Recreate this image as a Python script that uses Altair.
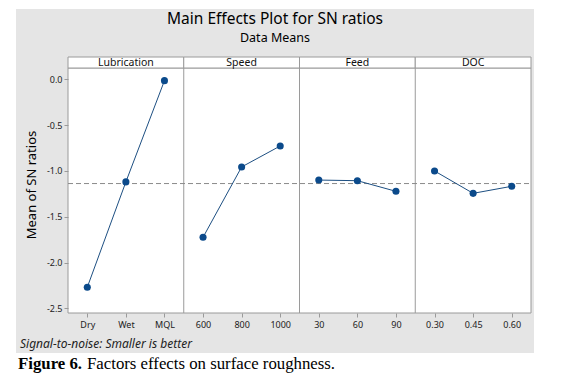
import altair as alt
import pandas as pd

# ---- data ----
factors = ["Lubrication", "Speed", "Feed", "DOC"]
levels = [["Dry", "Wet", "MQL"], ["600", "800", "1000"], ["30", "60", "90"], ["0.30", "0.45", "0.60"]]
sn_lubrication = [-2.27, -1.12, -0.015]
sn_speed = [-1.725, -0.957, -0.728]
sn_feed = [-1.100, -1.107, -1.223]
sn_doc = [-1.001, -1.245, -1.168]
y_ticks = [0.0, -0.5, -1.0, -1.5, -2.0, -2.5]

title_text = "Main Effects Plot for SN ratios"
subtitle_text = "Data Means"
y_title = "Mean of SN ratios"
footnote = "Signal-to-noise: Smaller is better"
caption_bold = "Figure 6."
caption_rest = "Factors effects on surface roughness."

series = [sn_lubrication, sn_speed, sn_feed, sn_doc]
rows = []
for p, (f, lv, vals) in enumerate(zip(factors, levels, series)):
    for i, (l, v) in enumerate(zip(lv, vals)):
        rows.append({"factor": f, "panel": p, "idx": i, "level": l, "sn": v})
df = pd.DataFrame(rows)
df_f = pd.DataFrame({"factor": factors, "panel": list(range(len(factors)))})
one = pd.DataFrame({"k": [0]})

W, H = 463, 245
n_pos = 3 * len(factors)
XS = alt.Scale(domain=[0, n_pos], nice=False, zero=False)
YS = alt.Scale(domain=[-2.551, 0.123], nice=False, zero=False)

all_labels = [l for lv in levels for l in lv]
label_expr = "[" + ",".join("'%s'" % l for l in all_labels) + "][floor(datum.value)]"
x_vals = [k + 0.5 for k in range(n_pos)]

FONT = "Noto Sans"
GRID = "#9a9a9a"

x_axis = alt.Axis(values=x_vals, labelExpr=label_expr, title=None, grid=False, domain=False,
                  tickSize=4, tickColor=GRID, labelFontSize=9, labelColor="#222",
                  labelPadding=3, labelFont=FONT, zindex=1)
y_axis = alt.Axis(values=y_ticks, labelExpr="replace(format(datum.value, '.1f'), '\u2212', '-')",
                  title=None, grid=False, domain=False, tickSize=4, tickColor=GRID,
                  labelFontSize=9, labelColor="#222", labelPadding=2, labelFont=FONT, zindex=1)

bg = alt.Chart(one).mark_rect(fill="#e5e5e5").encode(
    x=alt.value(-52), x2=alt.value(466), y=alt.value(-59), y2=alt.value(285))
plot_bg = alt.Chart(one).mark_rect(fill="white", stroke=GRID, strokeWidth=1).encode(
    x=alt.value(0), x2=alt.value(W), y=alt.value(0), y2=alt.value(H))

strips = alt.Chart(df_f).transform_calculate(
    x0="datum.panel*3", x1="datum.panel*3+3"
).mark_rect(fill="white", stroke=GRID, strokeWidth=1).encode(
    x=alt.X("x0:Q", scale=XS, axis=x_axis), x2="x1:Q", y=alt.value(-11), y2=alt.value(0))
strip_text = alt.Chart(df_f).transform_calculate(
    xc="datum.panel*3+1.5"
).mark_text(fontSize=10.5, font=FONT, color="#111", baseline="middle").encode(
    x=alt.X("xc:Q", scale=XS), y=alt.value(-5.5), text="factor:N")

dividers = alt.Chart(df_f).transform_filter("datum.panel > 0").transform_calculate(
    xb="datum.panel*3"
).mark_rule(color=GRID, strokeWidth=1).encode(
    x=alt.X("xb:Q", scale=XS), y=alt.value(0), y2=alt.value(H))

mean_rule = alt.Chart(df).mark_rule(color="#8a8a8a", strokeDash=[5, 3], strokeWidth=1).encode(
    y=alt.Y("mean(sn):Q", scale=YS, axis=y_axis), x=alt.value(0), x2=alt.value(W))

base = alt.Chart(df).transform_calculate(pos="datum.panel*3 + datum.idx + 0.5")
lines = base.mark_line(color="#1d4f82", strokeWidth=1).encode(
    x=alt.X("pos:Q", scale=XS), y=alt.Y("sn:Q", scale=YS), detail="factor:N")
points = base.mark_circle(size=50, color="#0b4a8b", opacity=1).encode(
    x=alt.X("pos:Q", scale=XS), y=alt.Y("sn:Q", scale=YS))

def label(txt, x, y, size, **kw):
    return alt.Chart(one).mark_text(fontSize=size, baseline="middle", **kw).encode(
        x=alt.value(x), y=alt.value(y), text=alt.value(txt))

title = label(title_text, 207, -49, 15.5, font=FONT, color="black")
subtitle = label(subtitle_text, 207, -30, 12.5, font=FONT, color="black")
ytitle = label(y_title, -36, 117, 13, font=FONT, color="black", angle=270)
foot = label(footnote, -48, 276, 12, font=FONT, color="#222", align="left", fontStyle="italic")
cap1 = label(caption_bold, -50, 296, 16.8, font="Liberation Serif", color="black", align="left",
             fontWeight="bold")
cap2 = label(caption_rest, 19, 296, 16.8, font="Liberation Serif", color="black", align="left")

chart = alt.layer(
    bg, plot_bg, strips, strip_text, dividers, mean_rule, lines, points,
    title, subtitle, ytitle, foot, cap1, cap2
).properties(
    width=W, height=H,
    autosize=alt.AutoSizeParams(type="none"),
    padding={"left": 60, "top": 60, "right": 12, "bottom": 62},
).configure_view(stroke=None).configure(font=FONT, background="white")

chart.save("out.html", embed_options={"renderer": "svg", "actions": False})
